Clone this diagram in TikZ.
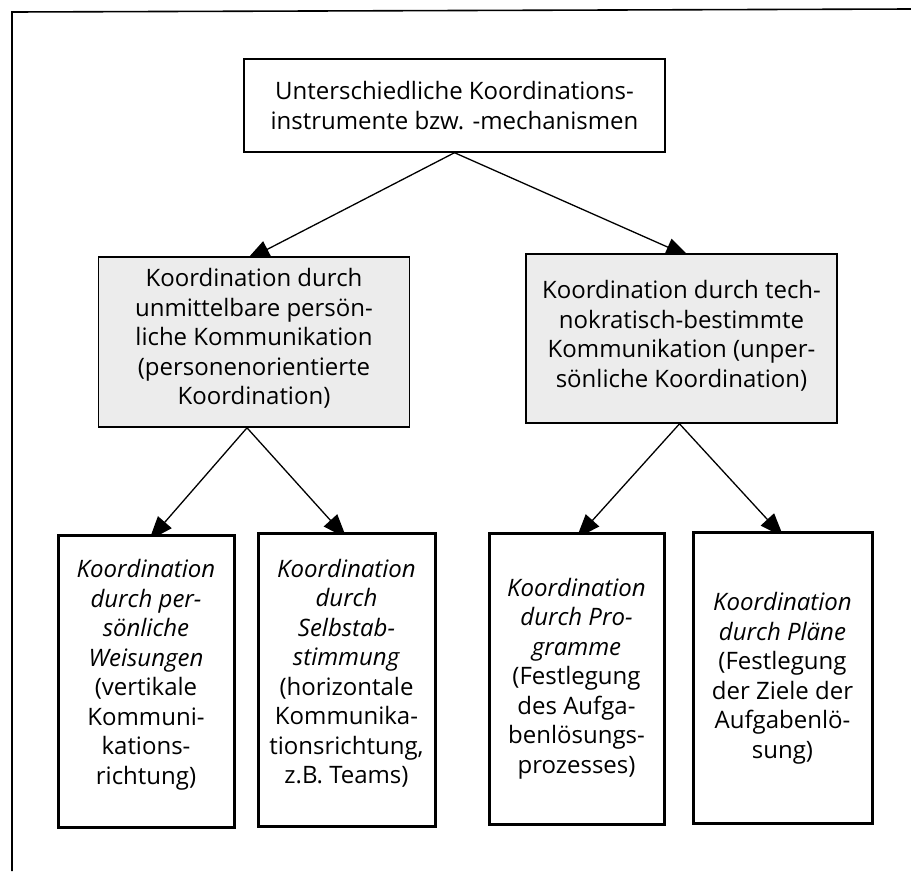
\documentclass[tikz,border=0pt]{standalone}
\usepackage{fontspec}
\setmainfont{Open Sans}
\usetikzlibrary{arrows.meta,backgrounds}
\tikzset{
  topbox/.style={draw=black, line width=1.4pt, fill=white, minimum width=421pt, minimum height=93pt, inner sep=0pt, align=center},
  midbox/.style={draw=black, line width=1.6pt, fill=gray!15, minimum width=311pt, minimum height=170pt, inner sep=0pt, align=center},
  lowbox/.style={draw=black, line width=3pt, fill=white, minimum width=177pt, minimum height=292pt, inner sep=0pt, align=center},
  conn/.style={line width=1.3pt, -{Triangle[length=24pt,width=18pt]}, shorten >=-9pt},
  frameline/.style={line width=1.6pt}
}
\begin{document}
\begin{tikzpicture}[x=1pt,y=-1pt, font=\fontsize{24}{29.5}\selectfont]
\useasboundingbox (0,0) rectangle (911,871);
\draw[frameline] (12,871) -- (12,12) -- (911,9);

\node[topbox] (top) at (454.5,105.5) {Unterschiedliche Koordinations-\\instrumente bzw. -mechanismen};

\node[midbox] (L) at (254,342) {\mbox{}\\[-18pt]Koordination durch\\unmittelbare persön-\\liche Kommunikation\\(personenorientierte\\Koordination)};
\node[midbox, minimum height=169pt] (R) at (681.5,338.5) {\mbox{}\\[-17pt]Koordination durch tech-\\nokratisch-bestimmte\\Kommunikation (unper-\\sönliche Koordination)};

\node[lowbox, minimum width=176pt] (b1) at (146,681) {\mbox{}\\[-23.5pt]\textit{Koordination}\\\textit{durch per-}\\\textit{sönliche}\\\textit{Weisungen}\\(vertikale\\Kommuni-\\kations-\\richtung)};
\node[lowbox, minimum height=293pt] (b2) at (346.5,679.5) {\mbox{}\\[-23.5pt]\textit{Koordination}\\\textit{durch}\\\textit{Selbstab-}\\\textit{stimmung}\\(horizontale\\Kommunika-\\tionsrichtung,\\z.B. Teams)};
\node[lowbox, minimum width=175pt, minimum height=291pt] (b3) at (576.5,678.5) {\textit{Koordination}\\\textit{durch Pro-}\\\textit{gramme}\\(Festlegung\\des Aufga-\\benlösungs-\\prozesses)};
\node[lowbox, minimum width=179pt, minimum height=291pt] (b4) at (782.5,677.5) {\mbox{}\\[-9.5pt]\textit{Koordination}\\\textit{durch Pläne}\\(Festlegung\\der Ziele der\\Aufgabenlö-\\sung)};

\begin{scope}[on background layer]
\draw[conn] (top.south) -- (L.north);
\draw[conn] (top.south) -- (R.north);
\draw[conn] ([xshift=-7pt]L.south) -- ([xshift=9pt]b1.north);
\draw[conn] ([xshift=-7pt]L.south) -- ([xshift=-6pt]b2.north);
\draw[conn] ([xshift=-2pt]R.south) -- ([xshift=6pt]b3.north);
\draw[conn] ([xshift=-2pt]R.south) -- ([xshift=-5pt]b4.north);
\end{scope}
\end{tikzpicture}
\end{document}
